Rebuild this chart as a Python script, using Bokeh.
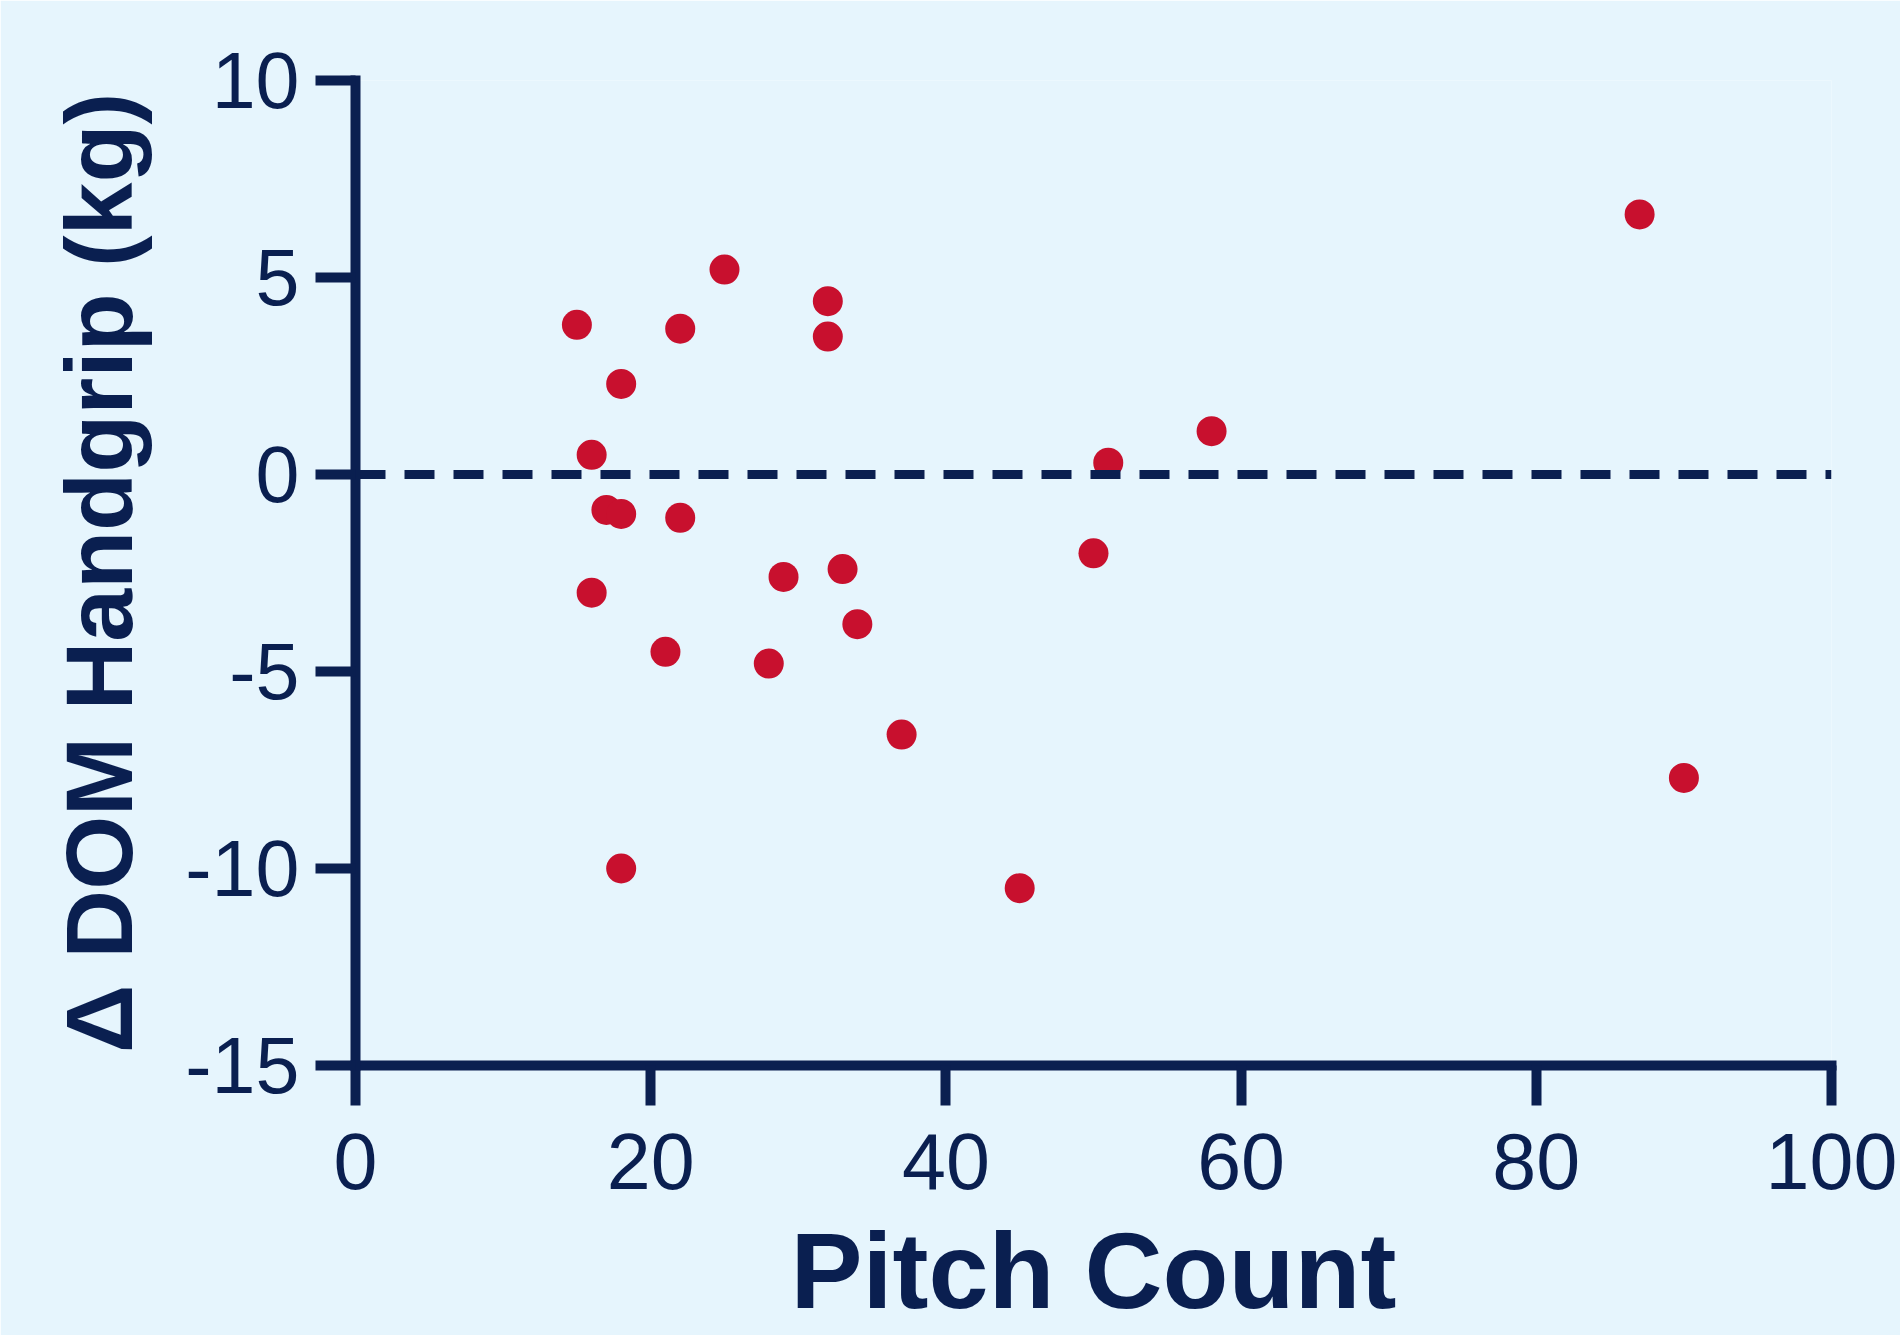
from bokeh.plotting import figure
from bokeh.models import Span, Range1d, FixedTicker, CustomJSTickFormatter
from bokeh.embed import file_html
from bokeh.resources import INLINE

pitch_count = [15, 16, 16, 17, 18, 18, 18, 21, 22, 22, 25, 28, 29, 32, 32, 33, 34, 37, 45, 50, 51, 58, 87, 90]
delta_grip = [3.8, 0.5, -3.0, -0.9, -1.0, 2.3, -10.0, -4.5, 3.7, -1.1, 5.2, -4.8, -2.6, 4.4, 3.5, -2.4, -3.8, -6.6, -10.5, -2.0, 0.3, 1.1, 6.6, -7.7]
x_ticks = [0, 20, 40, 60, 80, 100]
y_ticks = [-15, -10, -5, 0, 5, 10]
x_title = "Pitch Count"
y_title = "Δ DOM Handgrip (kg)"

NAVY = "#0a1f50"
RED = "#c8102e"
BG = "#e6f5fd"
FONT = "Liberation Sans, Arial, Helvetica, sans-serif"

W, H = 1900, 1335

p = figure(width=W, height=H, output_backend="svg", toolbar_location=None,
           x_range=Range1d(0, 100), y_range=Range1d(-15, 10),
           min_border_left=355, min_border_right=69, min_border_top=80, min_border_bottom=270)
p.background_fill_color = BG
p.border_fill_color = BG
p.outline_line_color = None
p.grid.visible = False

p.add_layout(Span(location=0, dimension="width", line_color=NAVY, line_width=9,
                  line_dash="30 19", line_cap="butt"))
p.scatter(pitch_count, delta_grip, size=30, fill_color=RED, line_color=None)

for ax in (p.xaxis[0], p.yaxis[0]):
    ax.axis_line_color = NAVY
    ax.axis_line_width = 10
    ax.axis_line_cap = "square"
    ax.major_tick_line_color = NAVY
    ax.major_tick_line_width = 10
    ax.major_tick_out = 40
    ax.major_tick_in = 0
    ax.minor_tick_line_color = None
    ax.major_label_text_font = FONT
    ax.major_label_text_font_size = "79px"
    ax.major_label_text_color = NAVY
    ax.axis_label_text_font = FONT
    ax.axis_label_text_font_style = "bold"
    ax.axis_label_text_color = NAVY

p.xaxis.ticker = FixedTicker(ticks=x_ticks)
p.yaxis.ticker = FixedTicker(ticks=y_ticks)
p.yaxis.formatter = CustomJSTickFormatter(code="return tick.toString()")
p.xaxis.major_label_standoff = 28
p.yaxis.major_label_standoff = 16
p.xaxis.axis_label = x_title
p.xaxis.axis_label_text_font_size = "108px"
p.xaxis.axis_label_standoff = 18
p.yaxis.axis_label = y_title
p.yaxis.axis_label_text_font_size = "95px"
p.yaxis.axis_label_standoff = 30

open("out.html", "w").write(file_html(p, INLINE))
